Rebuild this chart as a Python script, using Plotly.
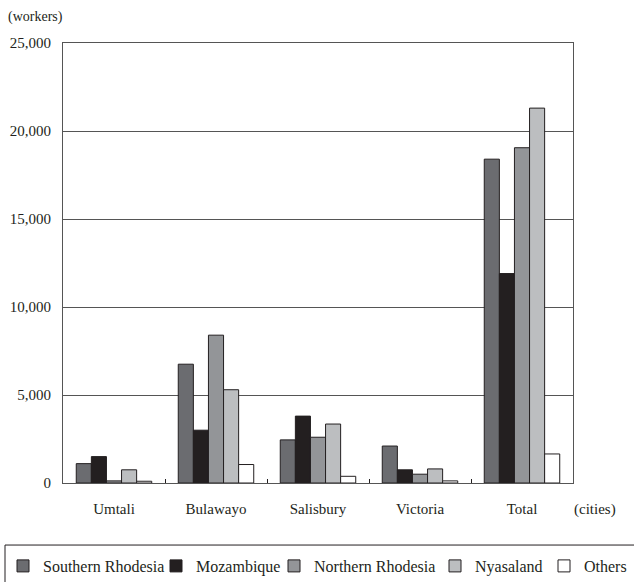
import plotly.graph_objects as go

# Migrant workers by city and origin
cities = ['Umtali', 'Bulawayo', 'Salisbury', 'Victoria', 'Total']
southern_rhodesia = [1100, 6750, 2450, 2100, 18400]
mozambique = [1500, 3000, 3800, 750, 11900]
northern_rhodesia = [120, 8400, 2600, 500, 19050]
nyasaland = [750, 5300, 3350, 800, 21300]
others = [100, 1050, 380, 120, 1650]

series = [
    ('Southern Rhodesia', southern_rhodesia, '#6b6c70'),
    ('Mozambique', mozambique, '#231f20'),
    ('Northern Rhodesia', northern_rhodesia, '#939598'),
    ('Nyasaland', nyasaland, '#bcbec0'),
    ('Others', others, '#ffffff'),
]

FONT = 'Liberation Serif, serif'
W, H = 634, 582

# left edge (px) of each legend entry; one legend per series so the row
# can run wider than plotly's single-legend wrapping allows
legend_left_px = [3, 156, 274, 435, 544]

fig = go.Figure()
for i, (name, vals, color) in enumerate(series):
    fig.add_trace(go.Bar(
        x=cities, y=vals, name=name, showlegend=True,
        legend='legend' if i == 0 else f'legend{i + 1}',
        marker=dict(color=color, line=dict(color='#231f20', width=1)),
    ))

legends = {}
for i, px in enumerate(legend_left_px):
    key = 'legend' if i == 0 else f'legend{i + 1}'
    legends[key] = dict(
        orientation='h', xref='container', yref='container',
        x=px / W, y=1 - 566 / H, xanchor='left', yanchor='middle',
        borderwidth=0, bgcolor='rgba(0,0,0,0)',
        font=dict(family=FONT, size=16, color='#231f20'),
        itemwidth=30,
    )

fig.update_layout(
    width=W, height=H, showlegend=True,
    barmode='group', bargap=0.26, bargroupgap=0,
    plot_bgcolor='white', paper_bgcolor='white',
    margin=dict(l=63, r=61, t=43, b=99, autoexpand=False),
    font=dict(family=FONT, size=15, color='#231f20'),
    annotations=[
        dict(text='(workers)', xref='paper', yref='paper', x=-0.112, y=1.059,
             xanchor='left', yanchor='middle', showarrow=False,
             font=dict(family=FONT, size=14)),
        dict(text='(cities)', xref='paper', yref='paper', x=0.998, y=-0.061,
             xanchor='left', yanchor='middle', showarrow=False,
             font=dict(family=FONT, size=15)),
    ],
    # frame around the legend row
    shapes=[dict(type='rect', xref='paper', yref='paper',
                 x0=-0.1137, x1=1.14, y0=-0.141, y1=-0.26,
                 line=dict(color='#231f20', width=1), fillcolor='rgba(0,0,0,0)')],
    **legends,
)

fig.update_yaxes(
    range=[0, 25000], tickvals=[0, 5000, 10000, 15000, 20000, 25000],
    tickformat=',', showgrid=True, gridcolor='#555555', gridwidth=1,
    showline=True, linecolor='#555555', linewidth=1, mirror=True,
    zeroline=False, ticks='', ticklabelstandoff=8, automargin=False,
)
fig.update_xaxes(
    showline=True, linecolor='#555555', linewidth=1, mirror=True,
    ticks='inside', tickson='boundaries', ticklen=4, tickcolor='#231f20',
    showgrid=False, ticklabelstandoff=12, automargin=False,
)

fig.write_html('out.html', config={'displayModeBar': False},
               post_script="document.body.style.margin='0';")
